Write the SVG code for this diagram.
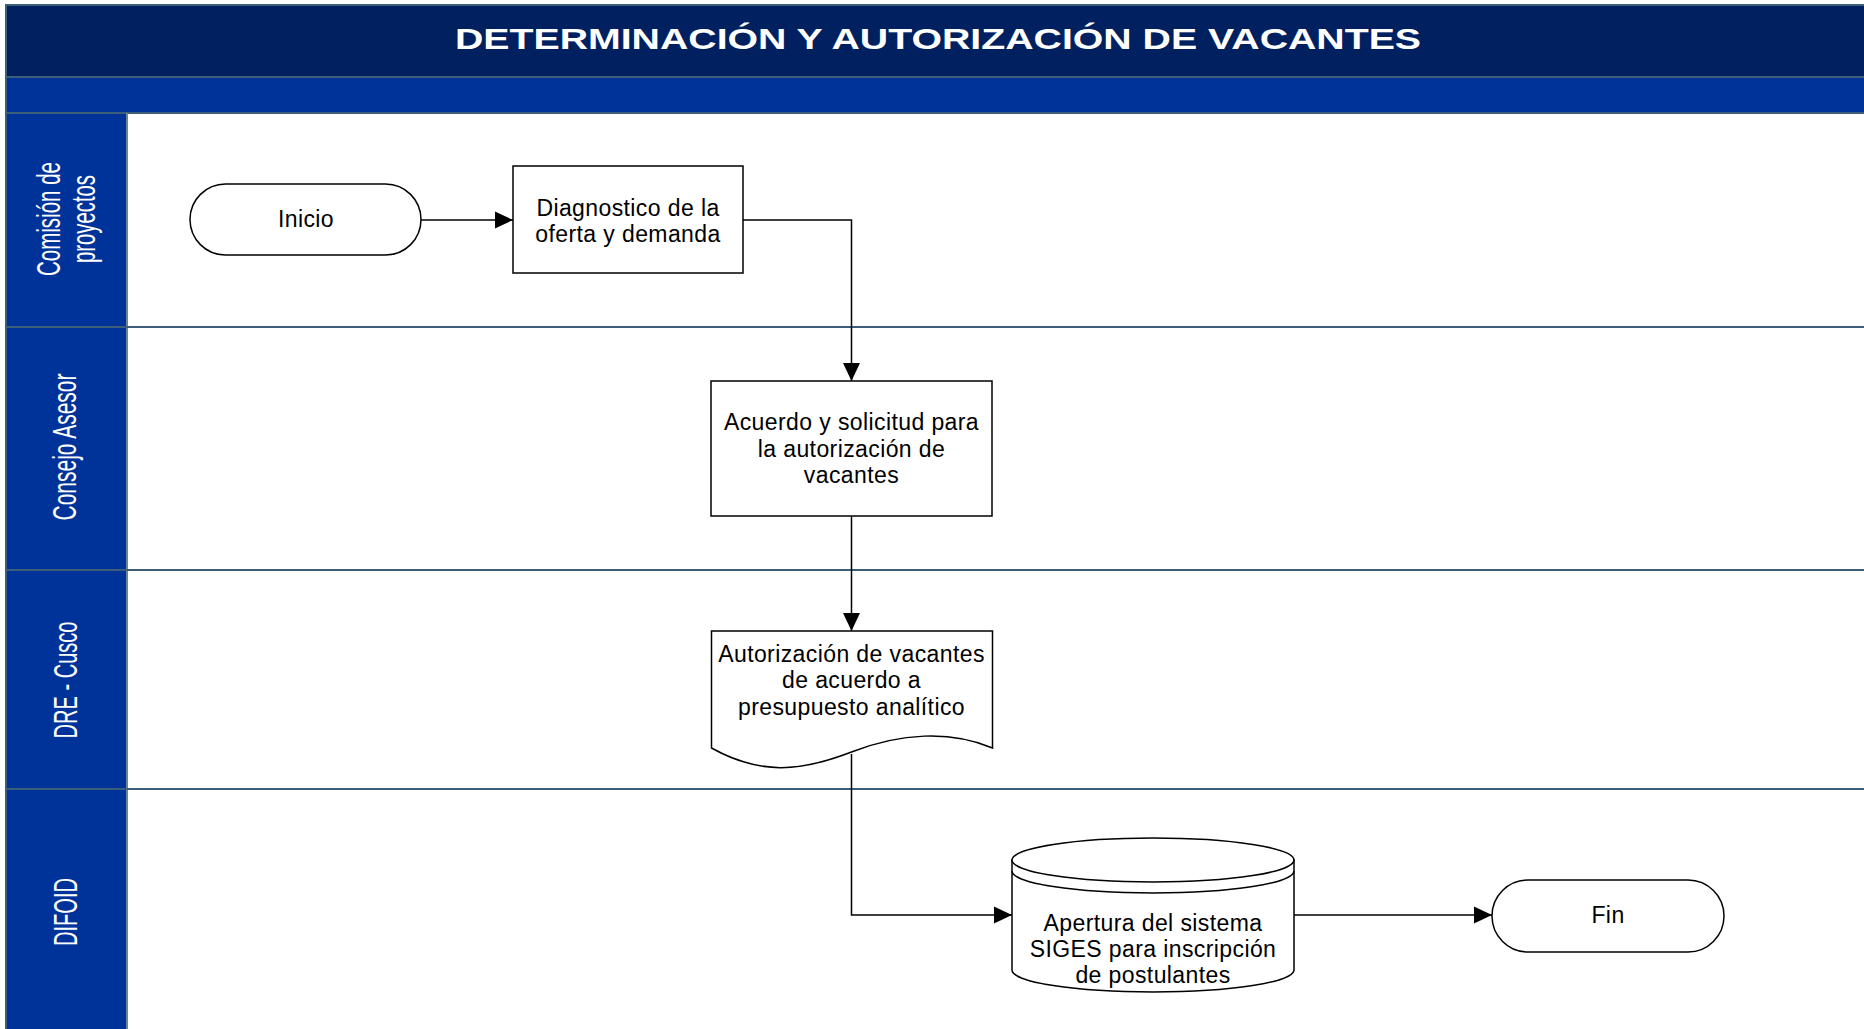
<svg xmlns="http://www.w3.org/2000/svg" width="1864" height="1029" viewBox="0 0 1864 1029">
<defs>
<style>
.lbl{font-family:"Liberation Sans",Arial,sans-serif;font-size:34px;fill:#ffffff;text-anchor:middle}
.nt{font-family:"Liberation Sans",Arial,sans-serif;font-size:23px;fill:#000000;text-anchor:middle;letter-spacing:0.4px}
.shape{fill:#ffffff;stroke:#000000;stroke-width:1.5}
.conn{fill:none;stroke:#000000;stroke-width:1.5}
.lane{stroke:#3c5e78;stroke-width:2}
</style>
<marker id="arr" viewBox="0 0 18 18" refX="18" refY="9" markerWidth="18" markerHeight="18" markerUnits="userSpaceOnUse" orient="auto">
<path d="M0,0.5 L18,9 L0,17.5 z" fill="#000000"/>
</marker>
</defs>
<rect width="1864" height="1029" fill="#ffffff"/>
<g id="pool">
<rect x="6" y="5" width="1870" height="72" fill="#002060" stroke="#3c5e78" stroke-width="2"/>
<rect x="6" y="77" width="1870" height="36" fill="#003399" stroke="#3c5e78" stroke-width="2"/>
<rect x="6" y="113" width="121" height="930" fill="#003399" stroke="#3c5e78" stroke-width="2"/>
<line x1="127" y1="113" x2="127" y2="1029" stroke="#6a8596" stroke-width="2"/>
<line class="lane" x1="6" y1="327" x2="1864" y2="327"/>
<line class="lane" x1="6" y1="570" x2="1864" y2="570"/>
<line class="lane" x1="6" y1="789" x2="1864" y2="789"/>
<text x="455" y="49" font-family="'Liberation Sans',Arial,sans-serif" font-weight="bold" font-size="30" fill="#ffffff" textLength="966" lengthAdjust="spacingAndGlyphs">DETERMINACIÓN Y AUTORIZACIÓN DE VACANTES</text>
</g>
<g id="lane-comision">
<text class="lbl" transform="translate(60,219) rotate(-90)" textLength="114" lengthAdjust="spacingAndGlyphs">Comisión de</text>
<text class="lbl" transform="translate(95,219) rotate(-90)" textLength="88" lengthAdjust="spacingAndGlyphs">proyectos</text>
</g>
<g id="lane-consejo">
<text class="lbl" transform="translate(76,447) rotate(-90)" textLength="147" lengthAdjust="spacingAndGlyphs">Consejo Asesor</text>
</g>
<g id="lane-dre">
<text class="lbl" transform="translate(77,680) rotate(-90)" textLength="117" lengthAdjust="spacingAndGlyphs">DRE - Cusco</text>
</g>
<g id="lane-difoid">
<text class="lbl" transform="translate(77,912) rotate(-90)" textLength="68" lengthAdjust="spacingAndGlyphs">DIFOID</text>
</g>
<g id="connectors">
<path class="conn" d="M421,220 H513" marker-end="url(#arr)"/>
<path class="conn" d="M743,220 H851.5 V381" marker-end="url(#arr)"/>
<path class="conn" d="M851.5,516 V631" marker-end="url(#arr)"/>
<path class="conn" d="M851.5,754 V915 H1012" marker-end="url(#arr)"/>
<path class="conn" d="M1294,915 H1492" marker-end="url(#arr)"/>
</g>
<g id="inicio">
<rect class="shape" x="190" y="184" width="231" height="71" rx="35.5" ry="35.5"/>
<text class="nt" x="306" y="227">Inicio</text>
</g>
<g id="diagnostico">
<rect class="shape" x="513" y="166" width="230" height="107"/>
<text class="nt" x="628" y="215.5">Diagnostico de la</text>
<text class="nt" x="628" y="241.5">oferta y demanda</text>
</g>
<g id="acuerdo">
<rect class="shape" x="711" y="381" width="281" height="135"/>
<text class="nt" x="851.5" y="429.5">Acuerdo y solicitud para</text>
<text class="nt" x="851.5" y="456.5">la autorización de</text>
<text class="nt" x="851.5" y="483">vacantes</text>
</g>
<g id="autorizacion">
<path class="shape" d="M711.5,631 H992.5 V748 C950,730 900,733 851.5,752 C800,772 760,775 711.5,748 Z"/>
<text class="nt" x="851.5" y="661.5">Autorización de vacantes</text>
<text class="nt" x="851.5" y="688.3">de acuerdo a</text>
<text class="nt" x="851.5" y="715">presupuesto analítico</text>
</g>
<g id="apertura">
<path class="shape" d="M1012,860 V970 A141,22 0 0 0 1294,970 V860 Z"/>
<ellipse class="shape" cx="1153" cy="860" rx="141" ry="22"/>
<path class="conn" d="M1012,871 A141,22 0 0 0 1294,871"/>
<text class="nt" x="1153" y="930.5">Apertura del sistema</text>
<text class="nt" x="1153" y="956.5">SIGES para inscripción</text>
<text class="nt" x="1153" y="982.5">de postulantes</text>
</g>
<g id="fin">
<rect class="shape" x="1492" y="880" width="232" height="72" rx="36" ry="36"/>
<text class="nt" x="1608" y="923">Fin</text>
</g>
</svg>
